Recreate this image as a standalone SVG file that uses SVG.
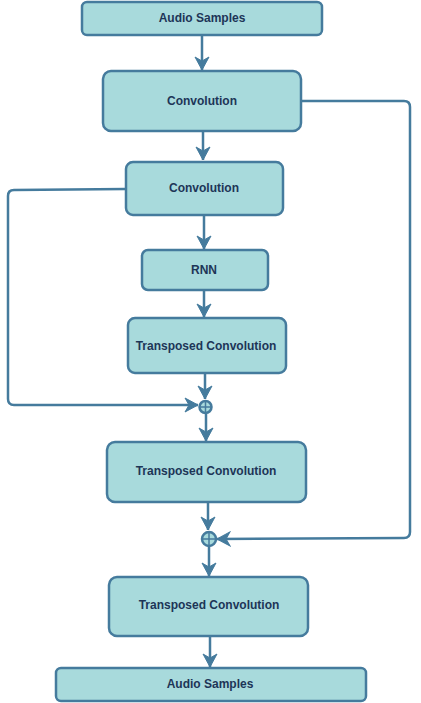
<svg xmlns="http://www.w3.org/2000/svg" width="421" height="703" viewBox="0 0 421 703">
<defs>
<marker id="arr" markerUnits="userSpaceOnUse" markerWidth="16" markerHeight="16" viewBox="-14 -8 16 16" refX="0" refY="0" orient="auto">
<path d="M0,0 L-13,-7 L-9,0 L-13,7 Z" fill="#457b9d" stroke="#457b9d" stroke-width="1" stroke-linejoin="miter"/>
</marker>
</defs>
<style>
.box{fill:#a8dadc;stroke:#457b9d;stroke-width:2.5}
.lbl{font-family:"Liberation Sans",Arial,sans-serif;font-size:12px;font-weight:bold;fill:#1d3557;text-anchor:middle;dominant-baseline:central}
.edge{fill:none;stroke:#457b9d;stroke-width:2.5;marker-end:url(#arr)}
.sum{fill:#a8dadc;stroke:#457b9d;stroke-width:2.5}
.plus{stroke:#457b9d;stroke-width:1.5}
</style>
<rect width="421" height="703" fill="#ffffff"/>
<g id="connectors">
<path class="edge" d="M202,36 L202,70"/>
<path class="edge" d="M203,131 L203,160"/>
<path class="edge" d="M204,216 L204,249"/>
<path class="edge" d="M204,291 L204,317"/>
<path class="edge" d="M205,374 L205,399"/>
<path class="edge" d="M126,189 L14,190 Q8,190 8,196 L8,399 Q8,405 14,405 L198,405"/>
<path class="edge" d="M206,414 L206,441"/>
<path class="edge" d="M208,502 L208,530"/>
<path class="edge" d="M302,101 L404,101 Q410,101 410,107 L410,532 Q410,538 404,538 L217,539"/>
<path class="edge" d="M209,547 L209,576"/>
<path class="edge" d="M210,636 L210,667"/>
</g>
<g id="n1"><rect class="box" x="82" y="2" width="240" height="33" rx="5"/><text class="lbl" x="202" y="18">Audio Samples</text></g>
<g id="n2"><rect class="box" x="103" y="71" width="198" height="60" rx="8"/><text class="lbl" x="202" y="101">Convolution</text></g>
<g id="n3"><rect class="box" x="126" y="162" width="157" height="53" rx="7"/><text class="lbl" x="204" y="188">Convolution</text></g>
<g id="n4"><rect class="box" x="142" y="250" width="126" height="40" rx="6"/><text class="lbl" x="204" y="270">RNN</text></g>
<g id="n5"><rect class="box" x="128" y="318" width="158" height="55" rx="7"/><text class="lbl" x="206" y="346">Transposed Convolution</text></g>
<g id="sum1"><circle class="sum" cx="205.5" cy="407" r="6"/><path class="plus" d="M199.5,407 H211.5 M205.5,401 V413"/></g>
<g id="n6"><rect class="box" x="107" y="442" width="199" height="60" rx="8"/><text class="lbl" x="206" y="471">Transposed Convolution</text></g>
<g id="sum2"><circle class="sum" cx="209" cy="539" r="7"/><path class="plus" d="M202,539 H216 M209,532 V546"/></g>
<g id="n7"><rect class="box" x="109" y="577" width="199" height="59" rx="8"/><text class="lbl" x="209" y="605">Transposed Convolution</text></g>
<g id="n8"><rect class="box" x="56" y="668" width="310" height="33" rx="5"/><text class="lbl" x="210" y="684">Audio Samples</text></g>
</svg>
